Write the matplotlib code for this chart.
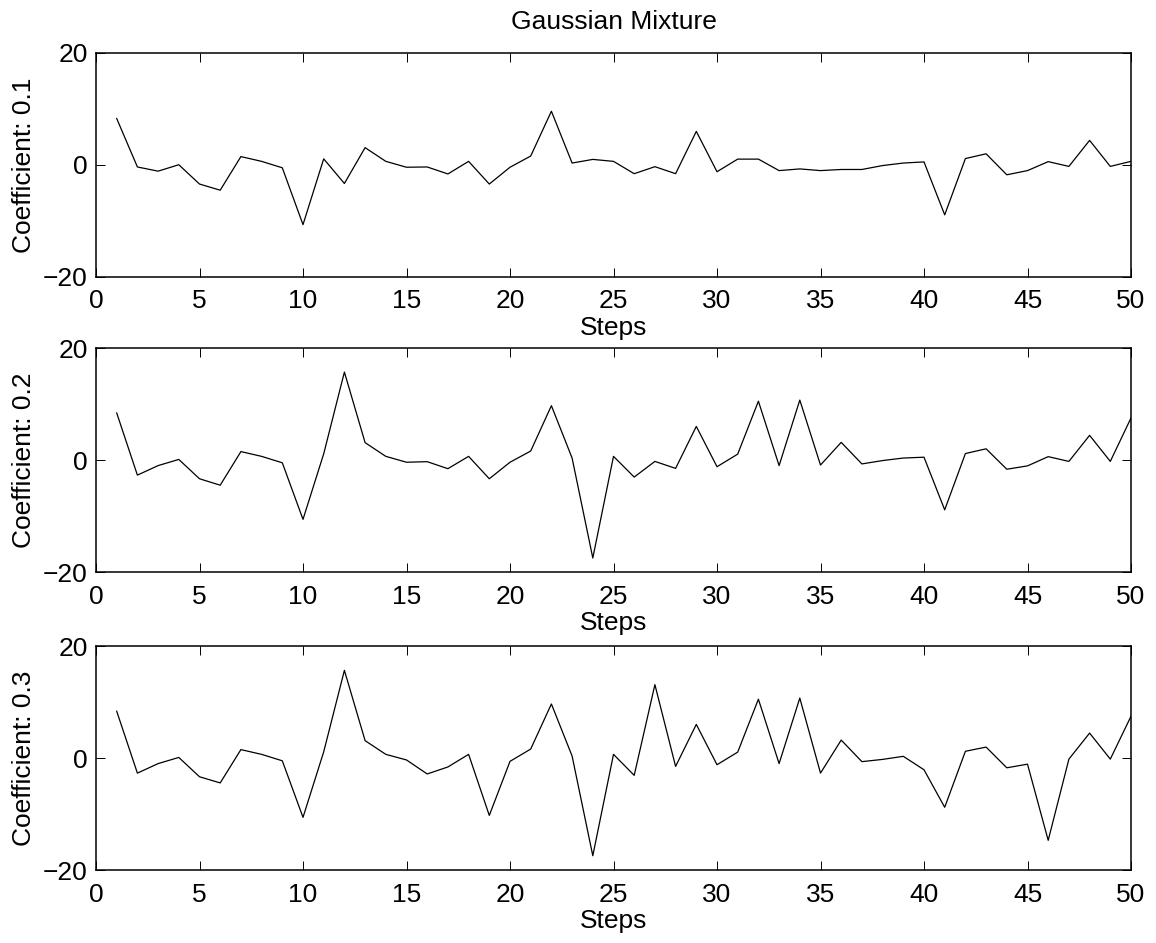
import numpy as np
import matplotlib
matplotlib.use('Agg')
import matplotlib.pyplot as plt

plt.rcParams['font.family'] = ['Liberation Sans', 'DejaVu Sans']

steps = np.arange(1, 51)

# values
coef_01 = [8.3, -0.35, -1.1, 0.05, -3.4, -4.5, 1.5, 0.65, -0.5, -10.65,
           1.1, -3.3, 3.1, 0.65, -0.4, -0.35, -1.6, 0.65, -3.4, -0.4,
           1.6, 9.6, 0.35, 1.0, 0.65, -1.55, -0.3, -1.55, 6.0, -1.2,
           1.05, 1.05, -1.0, -0.7, -1.0, -0.8, -0.8, -0.1, 0.35, 0.55,
           -8.9, 1.15, 2.0, -1.75, -1.0, 0.6, -0.25, 4.4, -0.25, 0.65]
coef_02 = [8.4, -2.7, -1.0, 0.1, -3.35, -4.5, 1.5, 0.65, -0.5, -10.6,
           1.1, 15.7, 3.1, 0.65, -0.4, -0.3, -1.55, 0.65, -3.35, -0.4,
           1.6, 9.7, 0.35, -17.5, 0.65, -3.05, -0.25, -1.5, 6.0, -1.2,
           1.05, 10.5, -1.0, 10.7, -0.9, 3.15, -0.7, -0.1, 0.35, 0.5,
           -8.9, 1.15, 2.0, -1.65, -1.05, 0.6, -0.25, 4.4, -0.25, 7.5]
coef_03 = [8.35, -2.7, -1.0, 0.1, -3.35, -4.45, 1.5, 0.65, -0.5, -10.6,
           1.1, 15.65, 3.1, 0.65, -0.35, -2.85, -1.6, 0.65, -10.25, -0.6,
           1.6, 9.65, 0.35, -17.45, 0.65, -3.1, 13.1, -1.5, 6.0, -1.2,
           1.05, 10.5, -1.0, 10.7, -2.7, 3.2, -0.65, -0.25, 0.3, -2.1,
           -8.8, 1.2, 1.95, -1.75, -1.1, -14.7, -0.2, 4.45, -0.2, 7.45]

series = [coef_01, coef_02, coef_03]
labels = ['Coefficient: 0.1', 'Coefficient: 0.2', 'Coefficient: 0.3']

W, H = 1156, 943
fig = plt.figure(figsize=(W / 100, H / 100), dpi=100)

tops = [53, 348, 646]   # pixel rows of each panel's top edge
ph = 224
for i, (vals, lab) in enumerate(zip(series, labels)):
    ax = fig.add_axes([96 / W, (H - tops[i] - ph) / H, 1035 / W, ph / H])
    ax.plot(steps, vals, color='black', lw=0.9)
    ax.set_xlim(0, 50)
    ax.set_ylim(-20, 20)
    ax.set_xticks(range(0, 51, 5))
    ax.set_yticks([-20, 0, 20])
    ax.tick_params(direction='in', length=6.5, width=0.7, top=True, right=True,
                   labelsize=19, pad=6)
    ax.tick_params(axis='x', pad=9)
    for sp in ax.spines.values():
        sp.set_linewidth(1.1)
    ax.set_xlabel('Steps', fontsize=19, labelpad=2)
    ax.set_ylabel(lab, fontsize=19, labelpad=5)
    if i == 0:
        ax.set_title('Gaussian Mixture', fontsize=19, pad=17)

fig.savefig('out.png', dpi=100)
